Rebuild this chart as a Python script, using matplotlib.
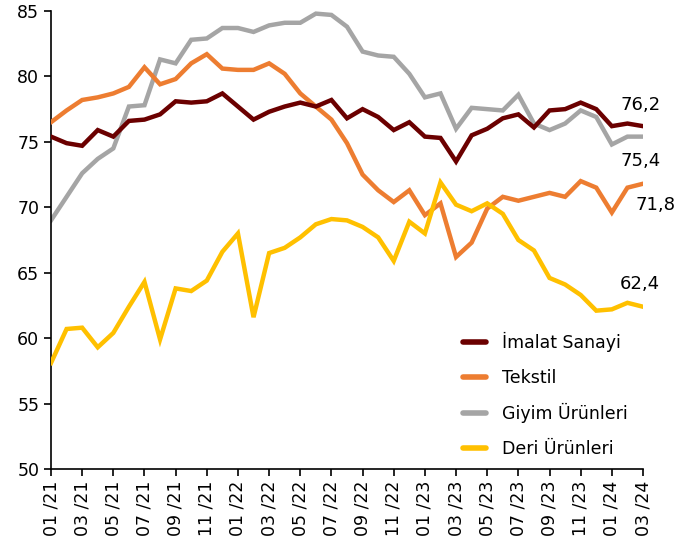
import matplotlib.pyplot as plt
import numpy as np

plt.rcParams['font.family'] = ['DejaVu Sans']

months = ['01/21', '02/21', '03/21', '04/21', '05/21', '06/21', '07/21', '08/21', '09/21', '10/21',
          '11/21', '12/21', '01/22', '02/22', '03/22', '04/22', '05/22', '06/22', '07/22', '08/22',
          '09/22', '10/22', '11/22', '12/22', '01/23', '02/23', '03/23', '04/23', '05/23', '06/23',
          '07/23', '08/23', '09/23', '10/23', '11/23', '12/23', '01/24', '02/24', '03/24']

imalat = [75.4, 74.9, 74.7, 75.9, 75.4, 76.6, 76.7, 77.1, 78.1, 78.0,
          78.1, 78.7, 77.7, 76.7, 77.3, 77.7, 78.0, 77.7, 78.2, 76.8,
          77.5, 76.9, 75.9, 76.5, 75.4, 75.3, 73.5, 75.5, 76.0, 76.8,
          77.1, 76.1, 77.4, 77.5, 78.0, 77.5, 76.2, 76.4, 76.2]
tekstil = [76.5, 77.4, 78.2, 78.4, 78.7, 79.2, 80.7, 79.4, 79.8, 81.0,
           81.7, 80.6, 80.5, 80.5, 81.0, 80.2, 78.7, 77.7, 76.7, 74.9,
           72.5, 71.3, 70.4, 71.3, 69.4, 70.3, 66.2, 67.3, 69.9, 70.8,
           70.5, 70.8, 71.1, 70.8, 72.0, 71.5, 69.6, 71.5, 71.8]
giyim = [69.0, 70.8, 72.6, 73.7, 74.5, 77.7, 77.8, 81.3, 81.0, 82.8,
         82.9, 83.7, 83.7, 83.4, 83.9, 84.1, 84.1, 84.8, 84.7, 83.8,
         81.9, 81.6, 81.5, 80.2, 78.4, 78.7, 76.0, 77.6, 77.5, 77.4,
         78.6, 76.4, 75.9, 76.4, 77.4, 76.9, 74.8, 75.4, 75.4]
deri = [58.1, 60.7, 60.8, 59.3, 60.4, 62.4, 64.3, 59.9, 63.8, 63.6,
        64.4, 66.6, 68.0, 61.6, 66.5, 66.9, 67.7, 68.7, 69.1, 69.0,
        68.5, 67.7, 65.9, 68.9, 68.0, 71.9, 70.2, 69.7, 70.3, 69.5,
        67.5, 66.7, 64.6, 64.1, 63.3, 62.1, 62.2, 62.7, 62.4]

names = ['İmalat Sanayi', 'Tekstil', 'Giyim Ürünleri', 'Deri Ürünleri']
colors = ['#6B0000', '#ED7D31', '#A5A5A5', '#FFC000']

fig = plt.figure(figsize=(6.79, 5.51), dpi=100)
ax = fig.add_axes([51/679, 1-469/551, 592/679, 458/551])

x = np.arange(len(months))
# grey sits under the others
for series, name, c, z in zip([imalat, tekstil, giyim, deri], names, colors, [4, 3, 2, 5]):
    ax.plot(x, series, color=c, lw=3.2, label=name, zorder=z, solid_joinstyle='miter')

ax.set_xlim(0, len(months) - 1)
ax.set_ylim(50, 85)
ax.set_yticks(range(50, 86, 5))
ax.set_xticks(x[::2])
ax.set_xticklabels([m.replace('/', ' /') for m in months[::2]], rotation=90)
ax.tick_params(axis='both', labelsize=12.5, direction='out', length=5, width=1.2)
for s in ['top', 'right']:
    ax.spines[s].set_visible(False)
for s in ['left', 'bottom']:
    ax.spines[s].set_linewidth(1.2)

last = len(months) - 1
ax.annotate('76,2', (last, imalat[-1]), xytext=(-2, 9), textcoords='offset points',
            ha='center', va='bottom', fontsize=13)
ax.annotate('75,4', (last, giyim[-1]), xytext=(-2, -11), textcoords='offset points',
            ha='center', va='top', fontsize=13)
ax.annotate('71,8', (last, tekstil[-1]), xytext=(9, -9), textcoords='offset points',
            ha='center', va='top', fontsize=13)
ax.annotate('62,4', (last, deri[-1]), xytext=(-2, 10), textcoords='offset points',
            ha='center', va='bottom', fontsize=13)

leg = ax.legend(loc='lower right', bbox_to_anchor=(1.0, -0.01), frameon=False, fontsize=12.5,
                handlelength=1.3, handletextpad=0.9, labelspacing=0.95)
for h in leg.get_lines():
    h.set_linewidth(4)
    h.set_solid_capstyle('round')

fig.savefig('out.png', dpi=100)
